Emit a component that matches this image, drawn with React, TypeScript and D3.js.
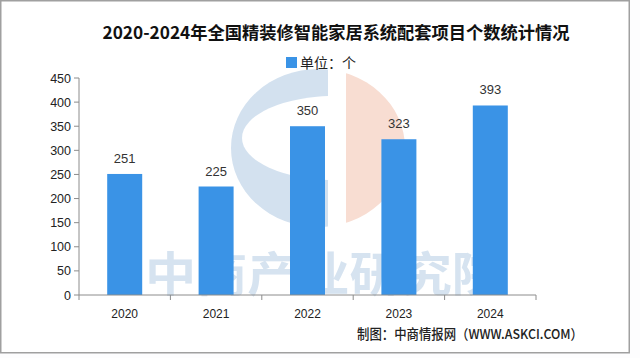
import React from "react";
import * as d3 from "d3";

const years = ["2020", "2021", "2022", "2023", "2024"];
const counts = [251, 225, 350, 323, 393];
const yTicks = [0, 50, 100, 150, 200, 250, 300, 350, 400, 450];
const title = "2020-2024年全国精装修智能家居系统配套项目个数统计情况";
const legendLabel = "单位：个";
const sourceText = "制图：中商情报网（WWW.ASKCI.COM）";
const watermarkText = "中商产业研究院";

export default function App() {
  const W = 640;
  const H = 358;
  const left = 79;
  const right = 536;
  const top = 78;
  const bottom = 295;

  const x = d3.scaleBand<string>().domain(years).range([left, right]).paddingInner(0).paddingOuter(0);
  const y = d3.scaleLinear().domain([0, 450]).range([bottom, top]);
  const barW = 35;
  const blue = "#3a93e6";
  const axisColor = "#8c8c8c";

  const cx = 318, cy = 148, rx = 87, ry = 79;
  const ellipsePath = (ex: number, ey: number, erx: number, ery: number) =>
    `M${ex - erx},${ey} a${erx},${ery} 0 1,0 ${erx * 2},0 a${erx},${ery} 0 1,0 ${-erx * 2},0 Z`;

  const boundaries = [left, ...years.map((d) => (x(d) as number) + x.bandwidth())];

  return (
    <svg
      width={W}
      height={H}
      style={{ position: "absolute", left: 0, top: 0, background: "#fff" }}
      fontFamily="'Noto Sans CJK SC', 'Noto Sans', sans-serif"
    >
      <defs>
        <clipPath id="blueClip">
          <rect x={0} y={0} width={cx + 10} height={H} />
        </clipPath>
        <clipPath id="peachClip">
          <rect x={cx + 28} y={0} width={W} height={H} />
        </clipPath>
        <mask id="hole">
          <rect x={0} y={0} width={W} height={H} fill="#fff" />
          <path d={ellipsePath(335, 138, 93, 42)} fill="#000" />
        </mask>
      </defs>
      <rect x={0} y={0} width={W} height={H} fill="#fdfdfe" />
      <rect x={0.75} y={0.75} width={628.5} height={352} fill="#fff" stroke="#a0a0a0" strokeWidth={1.5} />

      {/* watermark logo */}
      <g clipPath="url(#blueClip)">
        <path d={ellipsePath(cx, cy, rx, ry)} fill="#d3e1ef" mask="url(#hole)" />
      </g>
      <g clipPath="url(#peachClip)">
        <path d={ellipsePath(cx, cy, rx, ry)} fill="#f8ddd2" />
      </g>

      {/* watermark text */}
      <text x={324} y={291} textAnchor="middle" fontSize={47} fontWeight={700} fill="#d6e3f0" textLength={358} lengthAdjust="spacingAndGlyphs">
        {watermarkText}
      </text>

      {/* title */}
      <text x={336} y={39} textAnchor="middle" fontSize={17.5} fontWeight={700} fill="#111" textLength={467} lengthAdjust="spacingAndGlyphs">
        {title}
      </text>

      {/* legend */}
      <rect x={286} y={57} width={11} height={11} fill={blue} />
      <text x={300} y={68} fontSize={14} fill="#222">
        {legendLabel}
      </text>

      {/* bars */}
      {years.map((d, i) => {
        const cxBar = (x(d) as number) + x.bandwidth() / 2;
        return (
          <g key={d}>
            <rect x={cxBar - barW / 2} y={y(counts[i])} width={barW} height={bottom - y(counts[i])} fill={blue} />
            <text x={cxBar} y={y(counts[i]) - 11} textAnchor="middle" fontSize={13} fill="#333" fontFamily="'Liberation Sans', Arial, sans-serif">
              {counts[i]}
            </text>
            <text x={cxBar} y={318} textAnchor="middle" fontSize={12} fill="#222" fontFamily="'Liberation Sans', Arial, sans-serif">
              {d}
            </text>
          </g>
        );
      })}

      {/* y axis */}
      <line x1={left} x2={left} y1={top} y2={bottom} stroke={axisColor} strokeWidth={1} />
      {yTicks.map((t) => (
        <g key={t}>
          <line x1={left - 5} x2={left} y1={y(t)} y2={y(t)} stroke={axisColor} />
          <text x={71} y={y(t) + 4.5} textAnchor="end" fontSize={12.5} fill="#222" fontFamily="'Liberation Sans', Arial, sans-serif">
            {t}
          </text>
        </g>
      ))}

      {/* x axis */}
      <line x1={left} x2={right} y1={bottom} y2={bottom} stroke={axisColor} strokeWidth={1} />
      {boundaries.map((b, i) => (
        <line key={i} x1={b} x2={b} y1={bottom} y2={bottom + 5} stroke={axisColor} />
      ))}

      {/* source */}
      <text x={357} y={339} fontSize={13.5} fill="#222" fontWeight={500} textLength={226} lengthAdjust="spacingAndGlyphs">
        {sourceText}
      </text>
    </svg>
  );
}
